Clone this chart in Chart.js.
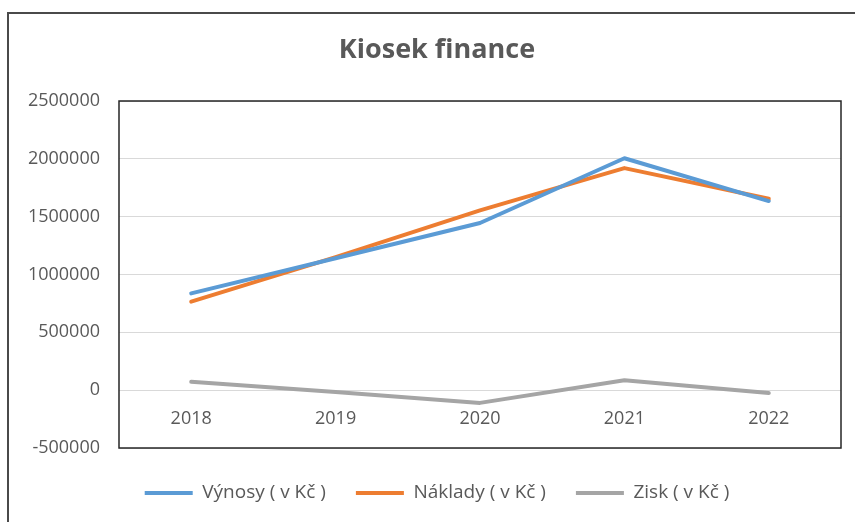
<!DOCTYPE html>
<html>
<head>
<meta charset="utf-8">
<script src="https://cdn.jsdelivr.net/npm/chart.js@4/dist/chart.umd.min.js"></script>
<style>
  html, body { margin: 0; padding: 0; background: #ffffff; overflow: hidden; }
  #wrap { position: relative; width: 855px; height: 522px; overflow: hidden; }
  #frame { position: absolute; left: 7px; top: 12px; width: 900px; height: 600px;
           border-left: 2px solid #4a4a4a; border-top: 2px solid #4a4a4a; pointer-events: none; }
  canvas { position: absolute; left: 0; top: 0; }
</style>
</head>
<body>
<div id="wrap">
  <canvas id="c" width="874" height="522"></canvas>
  <div id="frame"></div>
</div>
<script>
const years   = ['2018', '2019', '2020', '2021', '2022'];
const vynosy  = [837000, 1140000, 1445000, 2005000, 1635000];
const naklady = [765000, 1150000, 1555000, 1920000, 1655000];
const zisk    = [72000, -15000, -110000, 85000, -25000];
const seriesNames = ['Výnosy ( v Kč )', 'Náklady ( v Kč )', 'Zisk ( v Kč )'];
const chartTitle = 'Kiosek finance';

const FONT = "'Open Sans', 'Noto Sans', sans-serif";
const TXT = '#595959';

const plotBorder = {
  id: 'plotBorder',
  afterDraw(chart) {
    const a = chart.chartArea, ctx = chart.ctx;
    ctx.save();
    ctx.strokeStyle = '#262626';
    ctx.lineWidth = 1.5;
    ctx.strokeRect(a.left, a.top, a.right - a.left, a.bottom - a.top);
    ctx.restore();
  }
};

function ds(label, data, color) {
  return {
    label, data,
    borderColor: color, backgroundColor: color,
    borderWidth: 4, pointRadius: 0, pointHoverRadius: 0,
    pointStyle: 'line', tension: 0,
    borderCapStyle: 'round', borderJoinStyle: 'round'
  };
}

new Chart(document.getElementById('c'), {
  type: 'line',
  data: {
    labels: years,
    datasets: [
      ds(seriesNames[0], vynosy, '#5B9BD5'),
      ds(seriesNames[1], naklady, '#ED7D31'),
      ds(seriesNames[2], zisk, '#A5A5A5')
    ]
  },
  options: {
    responsive: false,
    animation: false,
    events: [],
    layout: { padding: { left: 0, right: 0, top: 0, bottom: 9.5 } },
    plugins: {
      title: {
        display: true, text: chartTitle, color: TXT,
        font: { family: FONT, size: 27, weight: 'bold', lineHeight: 1.2 },
        padding: { top: 34, bottom: 34.6 }
      },
      legend: {
        position: 'bottom',
        title: { display: true, text: '', font: { size: 1, lineHeight: 1 }, padding: { top: 4.5, bottom: 0 } },
        labels: {
          usePointStyle: true, pointStyleWidth: 48,
          padding: 30, color: TXT,
          font: { family: FONT, size: 19 }
        }
      },
      tooltip: { enabled: false }
    },
    scales: {
      x: {
        type: 'category',
        offset: true,
        position: { y: 0 },
        grid: { display: false, drawTicks: false },
        border: { display: false },
        ticks: { color: TXT, font: { family: FONT, size: 18 }, padding: 18, maxRotation: 0 }
      },
      y: {
        min: -500000, max: 2500000,
        afterFit(scale) { scale.width = 119; },
        grid: { color: '#d9d9d9', lineWidth: 1, drawTicks: false },
        border: { display: false },
        ticks: { stepSize: 500000, color: TXT, font: { family: FONT, size: 18 }, padding: 19,
                 callback: v => String(v) }
      },
      yRightSpace: {
        position: 'right',
        afterFit(scale) { scale.width = 33; },
        grid: { display: false, drawTicks: false },
        border: { display: false },
        ticks: { display: false }
      }
    }
  },
  plugins: [plotBorder]
});
</script>
</body>
</html>
